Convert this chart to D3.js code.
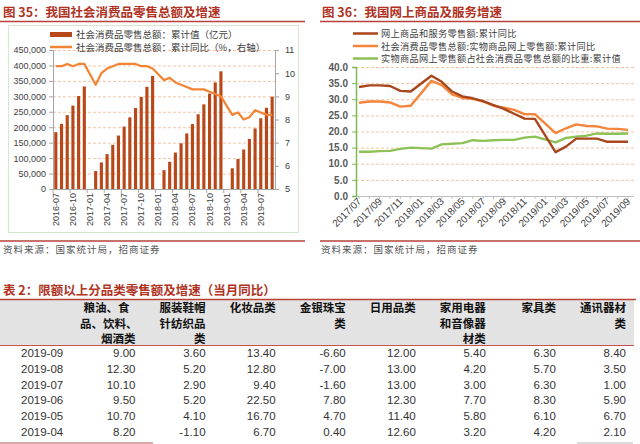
<!DOCTYPE html>
<html><head><meta charset="utf-8">
<script src="https://cdn.jsdelivr.net/npm/d3@7"></script>
<style>
body{margin:0;background:#fff;}
svg{display:block;}
text{font-family:"Liberation Sans",Arial,sans-serif;}
.cjk{font-family:"Noto Sans CJK SC","Noto Sans",sans-serif;}
</style></head><body>
<svg id="c" width="640" height="444"></svg>
<script>
// ---------- Chart 35 data ----------
const months1 = ["2016-07","2016-08","2016-09","2016-10","2016-11","2016-12",
 "2017-01","2017-02","2017-03","2017-04","2017-05","2017-06","2017-07","2017-08","2017-09","2017-10","2017-11","2017-12",
 "2018-01","2018-02","2018-03","2018-04","2018-05","2018-06","2018-07","2018-08","2018-09","2018-10","2018-11","2018-12",
 "2019-01","2019-02","2019-03","2019-04","2019-05","2019-06","2019-07","2019-08","2019-09"];
const retailCum = [184000,211000,239000,270000,301000,332000,
 null,58000,86000,113000,143000,173000,202000,232000,262000,298000,331000,366000,
 null,61000,88000,118000,148000,180000,210000,242000,274000,309000,345000,381000,
 null,67000,97000,128000,162000,196000,229000,263000,299000];
const retailYoY = [10.3,10.3,10.4,10.3,10.4,10.4,
 null,9.5,10.0,10.2,10.3,10.4,10.4,10.4,10.4,10.3,10.3,10.2,
 null,9.7,9.8,9.6,9.5,9.4,9.3,9.3,9.3,9.2,9.1,9.0,
 null,8.2,8.3,8.0,8.1,8.4,8.3,8.2,8.2];
const leftTicks = [0,50000,100000,150000,200000,250000,300000,350000,400000,450000];
const rightTicks = [5,6,7,8,9,10,11];
const legend35 = ["社会消费品零售总额：累计值（亿元）","社会消费品零售总额：累计同比（%，右轴）"];

// ---------- Chart 36 data ----------
const months2 = ["2017/07","2017/08","2017/09","2017/10","2017/11","2017/12",
 "2018/01","2018/02","2018/03","2018/04","2018/05","2018/06","2018/07","2018/08","2018/09","2018/10","2018/11","2018/12",
 "2019/01","2019/02","2019/03","2019/04","2019/05","2019/06","2019/07","2019/08","2019/09"];
const onlineAll = [33.8,34.3,34.3,34.1,32.6,32.4,null,37.3,35.4,32.4,30.9,30.3,29.4,28.2,27.0,25.5,24.0,23.9,null,13.6,15.3,17.8,17.8,17.8,16.8,16.8,16.8];
const onlinePhysical = [28.9,29.3,29.3,29.0,27.7,28.0,null,35.7,34.4,31.5,30.4,30.1,29.3,28.0,27.4,26.7,25.4,25.4,null,19.5,21.0,22.2,21.7,21.6,20.9,20.8,20.5];
const onlineShare = [13.7,13.7,13.9,14.0,14.6,15.0,null,14.7,16.0,16.2,16.4,17.3,17.1,17.3,17.4,17.4,18.1,18.4,null,16.6,18.0,18.4,18.7,19.4,19.3,19.3,19.4];
const yTicks36 = [0,5,10,15,20,25,30,35,40];
const legend36 = ["网上商品和服务零售额:累计同比","社会消费品零售总额:实物商品网上零售额:累计同比","实物商品网上零售额占社会消费品零售总额的比重:累计值"];
const colors36 = ["#a8461c","#f4843a","#8dc155"];

// ---------- Table data ----------
const tableDates = ["2019-09","2019-08","2019-07","2019-06","2019-05","2019-04"];
const tableHeaders = [["粮油、食","品、饮料、","烟酒类"],["服装鞋帽","针纺织品","类"],["化妆品类"],["金银珠宝","类"],["日用品类"],["家用电器","和音像器","材类"],["家具类"],["通讯器材","类"]];
const colGrain = [9.00,12.30,10.10,9.50,10.70,8.20];
const colClothes = [3.60,5.20,2.90,5.20,4.10,-1.10];
const colCosmetics = [13.40,12.80,9.40,22.50,16.70,6.70];
const colJewelry = [-6.60,-7.00,-1.60,7.80,4.70,0.40];
const colDaily = [12.00,13.00,13.00,12.30,11.40,12.60];
const colAppliance = [5.40,4.20,3.00,7.70,5.80,3.20];
const colFurniture = [6.30,5.70,6.30,8.30,6.10,4.20];
const colTelecom = [8.40,3.50,1.00,5.90,6.70,2.10];
const tableCols = [colGrain,colClothes,colCosmetics,colJewelry,colDaily,colAppliance,colFurniture,colTelecom];

const svg = d3.select("#c");
const titleColor = "#b0321f", ruleColor = "#b8403a";

// ===== Chart 35 =====
const g1 = svg.append("g");
g1.append("text").attr("class","cjk").attr("x",3).attr("y",17).attr("font-size",12.5).attr("font-weight","bold").attr("fill",titleColor).text("图 35：我国社会消费品零售总额及增速");
g1.append("line").attr("x1",0).attr("x2",305).attr("y1",21.5).attr("y2",21.5).attr("stroke",ruleColor).attr("stroke-width",1.5);
g1.append("rect").attr("x",8.5).attr("y",25.5).attr("width",290).attr("height",207).attr("fill","none").attr("stroke","#d3e8cc");

const xB = d3.scaleBand().domain(months1).range([53,275]).paddingInner(0.45).paddingOuter(0.225);
const yL = d3.scaleLinear().domain([0,450000]).range([189,50]);
const yR = d3.scaleLinear().domain([5,11]).range([189,50]);

g1.append("g").selectAll("line").data(leftTicks.filter(d=>d>0)).join("line")
 .attr("x1",53).attr("x2",275).attr("y1",d=>yL(d)+0.5).attr("y2",d=>yL(d)+0.5)
 .attr("stroke","#f6c3a3").attr("stroke-dasharray","3,2");

const barData = months1.map((m,i)=>({m,v:retailCum[i]})).filter(d=>d.v!=null);
g1.append("g").selectAll("rect").data(barData).join("rect")
 .attr("x",d=>xB(d.m)).attr("width",xB.bandwidth())
 .attr("y",d=>yL(d.v)).attr("height",d=>yL(0)-yL(d.v)).attr("fill","#b8481a");

const lineData = months1.map((m,i)=>({m,v:retailYoY[i]})).filter(d=>d.v!=null);
g1.append("path").datum(lineData)
 .attr("d",d3.line().x(d=>xB(d.m)+xB.bandwidth()/2).y(d=>yR(d.v)))
 .attr("fill","none").attr("stroke","#f28535").attr("stroke-width",2.2).attr("stroke-linejoin","round");

const axL = g1.append("g").attr("transform","translate(53,0)")
 .call(d3.axisLeft(yL).tickValues(leftTicks).tickFormat(d3.format(",")).tickSize(4).tickPadding(3));
const axR = g1.append("g").attr("transform","translate(275,0)")
 .call(d3.axisRight(yR).tickValues(rightTicks).tickFormat(d3.format("d")).tickSize(4).tickPadding(6));
[axL,axR].forEach(a=>{
 a.select(".domain").attr("stroke","#a6a6a6");
 a.selectAll(".tick line").attr("stroke","#a6a6a6");
 a.selectAll("text").attr("font-size",9).attr("fill","#404040").attr("font-family","Liberation Sans, Arial, sans-serif");
});
g1.append("line").attr("x1",53).attr("x2",275).attr("y1",189.5).attr("y2",189.5).attr("stroke","#a6a6a6");
const lblMonths1 = months1.filter((m,i)=>i%3===0);
g1.append("g").selectAll("line").data(lblMonths1).join("line")
 .attr("x1",d=>xB(d)-xB.step()*0.225).attr("x2",d=>xB(d)-xB.step()*0.225)
 .attr("y1",189).attr("y2",193).attr("stroke","#a6a6a6");
g1.append("g").selectAll("text").data(lblMonths1).join("text")
 .attr("transform",d=>`translate(${xB(d)+xB.bandwidth()/2+3},193) rotate(-90)`)
 .attr("text-anchor","end").attr("font-size",9).attr("fill","#404040").text(d=>d);

g1.append("rect").attr("x",50).attr("y",32).attr("width",22).attr("height",5).attr("fill","#b8481a");
g1.append("line").attr("x1",50).attr("x2",72).attr("y1",47).attr("y2",47).attr("stroke","#f28535").attr("stroke-width",2.5);
g1.append("g").selectAll("text").data(legend35).join("text").attr("class","cjk")
 .attr("x",76).attr("y",(d,i)=>38+i*12.5).attr("font-size",9.5).attr("fill","#404040").text(d=>d);

g1.append("line").attr("x1",0).attr("x2",305).attr("y1",241).attr("y2",241).attr("stroke",ruleColor).attr("stroke-width",1.5);
g1.append("text").attr("class","cjk").attr("x",3).attr("y",253).attr("font-size",9.5).attr("letter-spacing",1).attr("fill","#555").text("资料来源：国家统计局，招商证券");

// ===== Chart 36 =====
const g2 = svg.append("g");
g2.append("text").attr("class","cjk").attr("x",322).attr("y",17).attr("font-size",12.5).attr("font-weight","bold").attr("fill",titleColor).text("图 36：我国网上商品及服务增速");
g2.append("line").attr("x1",320).attr("x2",640).attr("y1",21.5).attr("y2",21.5).attr("stroke",ruleColor).attr("stroke-width",1.5);

const xP = d3.scalePoint().domain(months2).range([359,628]);
const y36 = d3.scaleLinear().domain([0,40]).range([196,67]);

g2.append("g").selectAll("line").data(yTicks36.filter(d=>d>0)).join("line")
 .attr("x1",356).attr("x2",634).attr("y1",d=>y36(d)+0.5).attr("y2",d=>y36(d)+0.5)
 .attr("stroke","#f6c3a3").attr("stroke-dasharray","3,2");
g2.append("line").attr("x1",356).attr("x2",634).attr("y1",196.5).attr("y2",196.5).attr("stroke","#bfbfbf");
g2.append("g").selectAll("line").data(months2).join("line")
 .attr("x1",d=>xP(d)).attr("x2",d=>xP(d)).attr("y1",196).attr("y2",199).attr("stroke","#bfbfbf");

const series36 = [onlineAll,onlinePhysical,onlineShare];
const line36 = d3.line().x(d=>xP(d.m)).y(d=>y36(d.v));
series36.slice().reverse().forEach((s,ri)=>{
 const i = series36.length-1-ri;
 const data = months2.map((m,k)=>({m,v:s[k]})).filter(d=>d.v!=null);
 g2.append("path").datum(data).attr("d",line36).attr("fill","none")
  .attr("stroke",colors36[i]).attr("stroke-width",2.4).attr("stroke-linejoin","round");
});

const ax36 = g2.append("g").attr("transform","translate(356,0)")
 .call(d3.axisLeft(y36).tickValues(yTicks36).tickFormat(d3.format(".1f")).tickSize(4).tickPadding(4));
ax36.select(".domain").attr("stroke","#7cb954").attr("stroke-width",1.5);
ax36.selectAll(".tick line").attr("stroke","#7cb954");
ax36.selectAll("text").attr("font-size",10).attr("font-weight","bold").attr("fill","#595959").attr("font-family","Liberation Sans, Arial, sans-serif");

g2.append("g").selectAll("text").data(months2.filter((m,i)=>i%2===0)).join("text")
 .attr("transform",d=>`translate(${xP(d)+3},202) rotate(-45)`)
 .attr("text-anchor","end").attr("font-size",10).attr("fill","#404040").text(d=>d);

legend36.forEach((t,i)=>{
 g2.append("line").attr("x1",353).attr("x2",378).attr("y1",33.5+i*12.5).attr("y2",33.5+i*12.5).attr("stroke",colors36[i]).attr("stroke-width",2.5);
 g2.append("text").attr("class","cjk").attr("x",381).attr("y",37+i*12.5).attr("font-size",9.2).attr("letter-spacing",0.3).attr("fill","#404040").text(t);
});

g2.append("line").attr("x1",320).attr("x2",640).attr("y1",241).attr("y2",241).attr("stroke",ruleColor).attr("stroke-width",1.5);
g2.append("text").attr("class","cjk").attr("x",321).attr("y",253).attr("font-size",9.5).attr("letter-spacing",1).attr("fill","#555").text("资料来源：国家统计局，招商证券");

// ===== Table =====
const g3 = svg.append("g");
g3.append("text").attr("class","cjk").attr("x",3).attr("y",295).attr("font-size",12.5).attr("font-weight","bold").attr("fill",titleColor).text("表 2：限额以上分品类零售额及增速（当月同比）");
g3.append("rect").attr("x",0).attr("y",300).attr("width",634).attr("height",45).attr("fill","#e3e3e3");
g3.append("line").attr("x1",0).attr("x2",636).attr("y1",299.5).attr("y2",299.5).attr("stroke",ruleColor).attr("stroke-width",1.5);
g3.append("line").attr("x1",0).attr("x2",634).attr("y1",345.5).attr("y2",345.5).attr("stroke","#c9504a").attr("stroke-width",1);

const colIdx = tableCols.map((c,i)=>i);
const xCol = d3.scalePoint().domain(colIdx).range([135.5,626]);
const yRow = d3.scaleBand().domain(tableDates).range([345,440]);
const hdrOffsets = [[-6,2,0]];
tableHeaders.forEach((lines,c)=>{
 lines.forEach((ln,k)=>{
  const off = (hdrOffsets[c] && hdrOffsets[c][k]) || 0;
  g3.append("text").attr("class","cjk").attr("x",xCol(c)+off).attr("y",312+k*15.5)
   .attr("text-anchor","end").attr("font-size",11.5).attr("font-weight","bold").attr("fill","#111").text(ln);
 });
});
g3.append("g").selectAll("text").data(tableDates).join("text")
 .attr("x",21).attr("y",d=>yRow(d)+yRow.bandwidth()/2+4).attr("font-size",11.5).attr("fill","#333").text(d=>d);
tableCols.forEach((col,c)=>{
 g3.append("g").selectAll("text").data(col).join("text")
  .attr("x",xCol(c)).attr("y",(d,r)=>yRow(tableDates[r])+yRow.bandwidth()/2+4)
  .attr("text-anchor","end").attr("font-size",11.5).attr("fill","#333").text(d=>d3.format(".2f")(d).replace("−","-"));
});
g3.append("line").attr("x1",0).attr("x2",153).attr("y1",443).attr("y2",443).attr("stroke","#d9aaa6").attr("stroke-width",2);
g3.append("line").attr("x1",577).attr("x2",633).attr("y1",443).attr("y2",443).attr("stroke","#cfcfcf").attr("stroke-width",1.5);
</script>
</body></html>
